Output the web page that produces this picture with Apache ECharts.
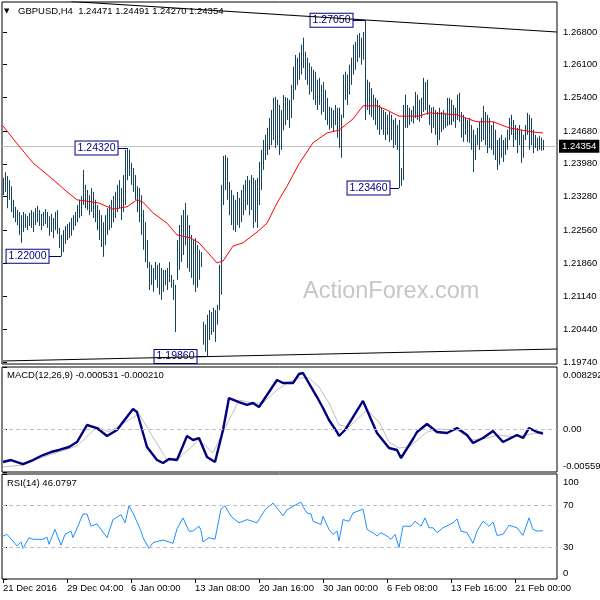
<!DOCTYPE html>
<html><head><meta charset="utf-8">
<script src="https://cdn.jsdelivr.net/npm/echarts@6/dist/echarts.min.js"></script>
<style>html,body{margin:0;padding:0;background:#fff;}#c{width:600px;height:600px;}</style>
</head><body><div id="c"></div>
<script>
// ---------- DATA ----------
const symbolName = 'GBPUSD,H4';
const lastOHLC = ['1.24471', '1.24491', '1.24270', '1.24354'];
const currentPrice = 1.24354;
const macdTitle = 'MACD(12,26,9) -0.000531 -0.000210';
const rsiTitle = 'RSI(14) 46.0797';
const watermark = 'ActionForex.com';

// H4 bars, index 0 = 21 Dec 2016 00:00
const barHigh = [
1.2368,1.2380,1.2372,1.2363,1.2350,1.2321,1.2306,1.2299,1.2295,1.2288,
1.2295,1.2291,1.2286,1.2293,1.2299,1.2295,1.2303,1.2308,1.2299,1.2291,
1.2295,1.2301,1.2295,1.2286,1.2291,1.2282,1.2295,1.2299,1.2261,1.2246,
1.2256,1.2265,1.2269,1.2273,1.2282,1.2288,1.2295,1.2310,1.2321,1.2329,
1.2385,1.2353,1.2342,1.2331,1.2346,1.2338,1.2321,1.2310,1.2299,1.2288,
1.2273,1.2288,1.2303,1.2310,1.2321,1.2329,1.2338,1.2353,1.2363,1.2346,
1.2374,1.2428,1.2432,1.2428,1.2400,1.2389,1.2374,1.2350,1.2346,1.2331,
1.2299,1.2273,1.2235,1.2188,1.2182,1.2175,1.2188,1.2182,1.2186,1.2175,
1.2171,1.2171,1.2175,1.2188,1.2160,1.2150,1.2139,1.2235,1.2267,1.2288,
1.2299,1.2314,1.2288,1.2267,1.2246,1.2235,1.2239,1.2224,1.2214,1.2209,
1.2060,1.2054,1.2075,1.2085,1.2081,1.2090,1.2085,1.2096,1.2182,1.2353,
1.2415,1.2417,1.2411,1.2359,1.2342,1.2331,1.2321,1.2338,1.2325,1.2342,
1.2353,1.2363,1.2372,1.2363,1.2374,1.2368,1.2363,1.2368,1.2402,1.2428,
1.2449,1.2460,1.2475,1.2496,1.2513,1.2539,1.2541,1.2535,1.2524,1.2513,
1.2545,1.2541,1.2539,1.2535,1.2567,1.2606,1.2631,1.2625,1.2636,1.2653,
1.2668,1.2638,1.2625,1.2614,1.2606,1.2599,1.2595,1.2578,1.2582,1.2567,
1.2573,1.2556,1.2539,1.2520,1.2518,1.2513,1.2524,1.2518,1.2518,1.2503,
1.2589,1.2595,1.2589,1.2610,1.2625,1.2653,1.2659,1.2674,1.2678,1.2668,
1.2680,1.2705,1.2578,1.2573,1.2560,1.2546,1.2539,1.2535,1.2524,1.2518,
1.2513,1.2509,1.2503,1.2509,1.2503,1.2492,1.2496,1.2481,1.2492,1.2389,
1.2524,1.2546,1.2524,1.2518,1.2513,1.2522,1.2552,1.2546,1.2535,1.2539,
1.2582,1.2573,1.2578,1.2524,1.2518,1.2520,1.2513,1.2509,1.2518,1.2509,
1.2513,1.2507,1.2539,1.2539,1.2535,1.2524,1.2518,1.2546,1.2550,1.2509,
1.2503,1.2496,1.2492,1.2496,1.2481,1.2471,1.2460,1.2475,1.2488,1.2496,
1.2522,1.2509,1.2503,1.2496,1.2481,1.2488,1.2471,1.2449,1.2454,1.2460,
1.2449,1.2454,1.2471,1.2496,1.2503,1.2492,1.2481,1.2475,1.2481,1.2471,
1.2460,1.2481,1.2507,1.2503,1.2496,1.2471,1.2460,1.2454,1.2458,1.2454,
1.24491];
const barLow = [
1.2331,1.2338,1.2303,1.2321,1.2295,1.2282,1.2273,1.2267,1.2246,1.2229,
1.2252,1.2261,1.2256,1.2265,1.2261,1.2252,1.2267,1.2273,1.2265,1.2256,
1.2265,1.2269,1.2261,1.2244,1.2252,1.2239,1.2256,1.2248,1.2218,1.2200,
1.2209,1.2227,1.2235,1.2239,1.2244,1.2256,1.2265,1.2273,1.2282,1.2286,
1.2310,1.2303,1.2299,1.2288,1.2295,1.2282,1.2273,1.2256,1.2235,1.2220,
1.2199,1.2224,1.2246,1.2256,1.2261,1.2273,1.2282,1.2295,1.2303,1.2278,
1.2295,1.2310,1.2363,1.2372,1.2353,1.2338,1.2321,1.2295,1.2273,1.2246,
1.2214,1.2188,1.2175,1.2128,1.2139,1.2124,1.2150,1.2133,1.2118,1.2107,
1.2124,1.2139,1.2128,1.2145,1.2133,1.2107,1.2038,1.2150,1.2171,1.2188,
1.2203,1.2224,1.2175,1.2167,1.2154,1.2139,1.2124,1.2133,1.2150,1.2177,
1.2011,1.1996,1.1986,1.2021,1.2032,1.2038,1.2017,1.2054,1.2085,1.2118,
1.2310,1.2342,1.2321,1.2288,1.2267,1.2256,1.2252,1.2267,1.2261,1.2273,
1.2288,1.2299,1.2310,1.2288,1.2299,1.2261,1.2273,1.2261,1.2310,1.2342,
1.2385,1.2406,1.2417,1.2428,1.2438,1.2449,1.2432,1.2438,1.2417,1.2428,
1.2470,1.2481,1.2492,1.2475,1.2496,1.2535,1.2556,1.2567,1.2578,1.2589,
1.2603,1.2578,1.2567,1.2546,1.2552,1.2535,1.2524,1.2513,1.2524,1.2503,
1.2509,1.2492,1.2481,1.2471,1.2475,1.2466,1.2481,1.2454,1.2432,1.2411,
1.2496,1.2535,1.2524,1.2546,1.2567,1.2589,1.2599,1.2616,1.2625,1.2610,
1.2621,1.2492,1.2513,1.2503,1.2498,1.2492,1.2481,1.2471,1.2460,1.2471,
1.2460,1.2449,1.2460,1.2445,1.2449,1.2432,1.2438,1.2428,1.2346,1.2351,
1.2363,1.2475,1.2475,1.2481,1.2488,1.2484,1.2496,1.2492,1.2488,1.2496,
1.2509,1.2513,1.2503,1.2481,1.2464,1.2475,1.2460,1.2438,1.2449,1.2466,
1.2471,1.2475,1.2479,1.2481,1.2481,1.2488,1.2475,1.2492,1.2488,1.2454,
1.2445,1.2460,1.2445,1.2443,1.2428,1.2380,1.2406,1.2438,1.2428,1.2445,
1.2449,1.2438,1.2421,1.2432,1.2428,1.2417,1.2406,1.2385,1.2396,1.2411,
1.2402,1.2417,1.2428,1.2449,1.2460,1.2434,1.2449,1.2421,1.2438,1.2400,
1.2411,1.2449,1.2460,1.2428,1.2438,1.2421,1.2432,1.2425,1.2428,1.2426,
1.24270];

// Moving average [bar index, price]
const maPoints = [[0,1.2479],[8,1.2436],[15,1.2400],[24,1.2368],[32,1.2338],[37,1.2321],[42,1.2318],[48,1.2314],[55,1.2301],[62,1.2306],[67,1.2321],[70,1.2316],[75,1.2293],[82,1.2271],[87,1.2246],[94,1.2239],[98,1.2229],[107,1.2186],[110,1.2190],[115,1.2222],[120,1.2229],[127,1.2252],[132,1.2271],[137,1.2314],[142,1.2350],[148,1.2398],[155,1.2443],[162,1.2464],[168,1.2470],[175,1.2494],[180,1.2522],[187,1.2522],[192,1.2513],[198,1.2500],[208,1.2500],[213,1.2507],[227,1.2503],[234,1.2492],[237,1.2488],[245,1.2488],[253,1.2475],[258,1.2471],[265,1.2466],[270,1.2464]];

// Trend lines [bar index, price]
const trendUpper = [[34,1.27453],[277,1.26800]];
const trendLower = [[0,1.19761],[277,1.20018]];

// Annotated extremes
const annIdx = [181, 62, 29, 102, 198];
const annPrice = [1.27050, 1.24320, 1.22000, 1.19860, 1.23460];

// MACD main and signal [bar index, value]
const macdPoints = [[0,-0.00427],[4,-0.00401],[10,-0.00454],[15,-0.00401],[20,-0.00335],[24,-0.00295],[28,-0.00268],[33,-0.00229],[37,-0.00163],[42,0.00062],[47,0.00022],[52,-0.00083],[57,-0.00004],[60,0.00102],[65,0.00274],[67,0.00234],[72,-0.00229],[77,-0.00401],[80,-0.00440],[83,-0.00387],[87,-0.00401],[92,-0.00083],[95,-0.00136],[98,-0.00110],[102,-0.00361],[106,-0.00427],[110,-0.00004],[113,0.00419],[118,0.00366],[122,0.00327],[125,0.00353],[128,0.00300],[137,0.00657],[140,0.00617],[145,0.00617],[148,0.00737],[150,0.00750],[157,0.00432],[160,0.00287],[163,0.00128],[167,-0.00030],[168,-0.00083],[171,-0.00004],[180,0.00380],[187,-0.00044],[193,-0.00242],[197,-0.00268],[199,-0.00374],[205,-0.00123],[207,-0.00030],[212,0.00075],[217,-0.00030],[222,-0.00044],[227,0.00022],[232,-0.00070],[235,-0.00176],[240,-0.00110],[245,-0.00017],[250,-0.00163],[257,-0.00070],[260,-0.00110],[263,0.00022],[267,-0.00030],[270,-0.000531]];
const signalPoints = [[0,-0.00493],[10,-0.00467],[20,-0.00361],[37,-0.00216],[47,0.00036],[53,-0.00030],[68,0.00208],[75,-0.00097],[82,-0.00401],[88,-0.00374],[98,-0.00136],[105,-0.00308],[113,0.00128],[118,0.00393],[125,0.00353],[130,0.00353],[137,0.00525],[143,0.00631],[148,0.00684],[153,0.00684],[158,0.00565],[163,0.00353],[168,0.00062],[173,0.00036],[182,0.00261],[188,0.00102],[193,-0.00163],[198,-0.00242],[203,-0.00229],[212,-0.00030],[218,0.00009],[227,-0.00004],[235,-0.00136],[242,-0.00110],[248,-0.00070],[255,-0.00097],[262,-0.00070],[270,-0.00021]];

// RSI [bar index, value]
const rsiPoints = [[0,40.9],[2,42.5],[7,31.5],[9,35.3],[10,29.1],[13,39.4],[15,37.8],[20,37.8],[22,39.9],[23,33.1],[26,47.2],[29,32.2],[31,42.5],[34,45.6],[35,39.4],[40,61.9],[42,61.9],[44,50.3],[47,52.5],[52,39.4],[55,56.6],[59,61.3],[61,53.5],[63,69.7],[65,62.9],[66,61.3],[69,45.6],[70,39.4],[73,29.1],[75,34.7],[80,37.1],[85,34.0],[87,47.8],[90,58.2],[93,45.6],[95,45.6],[98,50.3],[99,46.2],[100,35.3],[103,39.4],[106,37.8],[109,66.6],[111,69.7],[114,59.7],[118,53.5],[122,56.6],[127,53.5],[131,66.0],[135,72.3],[140,60.3],[142,66.0],[147,71.3],[149,73.2],[150,69.1],[152,62.9],[154,61.9],[155,55.0],[159,51.9],[160,59.7],[163,47.2],[165,42.5],[167,45.6],[168,36.2],[170,56.6],[173,55.0],[175,62.9],[180,66.6],[182,47.2],[185,44.1],[187,40.9],[189,44.1],[192,40.9],[194,37.8],[196,42.5],[198,30.0],[200,50.3],[204,50.3],[206,55.0],[209,50.3],[211,58.2],[213,48.8],[215,48.8],[217,44.1],[220,48.8],[225,53.5],[227,57.2],[229,45.6],[232,44.1],[235,34.0],[237,45.6],[240,55.0],[243,50.3],[245,54.4],[247,41.5],[250,42.5],[253,51.2],[257,48.8],[260,41.5],[263,58.2],[265,47.2],[267,45.6],[270,46.08]];

// Axis ticks
const priceTicks = [1.19740,1.20440,1.21140,1.21860,1.22560,1.23280,1.23980,1.24680,1.25400,1.26100,1.26800];
const macdTicks = [-0.005593, 0, 0.008292];
const rsiTicks = [0, 30, 70, 100];
const rsiLevels = [30, 70];
const timeTickIdx = [0, 32, 64, 96, 128, 160, 192, 224, 256];
const timeTickLabels = ['21 Dec 2016','29 Dec 04:00','6 Jan 00:00','13 Jan 08:00','20 Jan 16:00','30 Jan 00:00','6 Feb 08:00','13 Feb 16:00','21 Feb 00:00'];

// ---------- CHART ----------
const FONT = 'Liberation Sans';
const FS = 9.5;
const BAR_COLOR = '#17425e';
const NAVY = '#000080';
const annGapPx = [12, 9, 12, 10, 9];

const barData = barHigh.map((h, i) => [i, barLow[i], h]);

const chart = echarts.init(document.getElementById('c'), null, {renderer: 'canvas', width: 600, height: 600});

function gridDef(top, height) {
  return {left: 2, top: top, width: 555, height: height, show: true, borderColor: '#000', borderWidth: 1,
    backgroundColor: 'transparent', containLabel: false, outerBoundsMode: 'none'};
}

const xAxes = [0, 1, 2].map(g => ({
  type: 'value', gridIndex: g, min: -0.5, max: 277,
  show: g === 2,
  axisLine: {show: false},
  splitLine: {show: false},
  axisTick: {show: true, customValues: timeTickIdx, length: 4, lineStyle: {color: '#000'}},
  axisLabel: {
    customValues: timeTickIdx,
    formatter: v => timeTickLabels[timeTickIdx.indexOf(Math.round(v))] || '',
    align: 'left', margin: 4, fontSize: FS, color: '#000', fontFamily: FONT
  }
}));

const yLabelBase = {margin: 6, fontSize: FS, color: '#000', fontFamily: FONT};

const option = {
  animation: false,
  backgroundColor: '#fff',
  grid: [gridDef(2, 362), gridDef(367, 105), gridDef(474, 105)],
  xAxis: xAxes,
  yAxis: [
    {
      type: 'value', gridIndex: 0, position: 'right', min: 1.19697, max: 1.27442, scale: true,
      splitLine: {show: false}, axisLine: {show: false},
      axisTick: {show: true, customValues: priceTicks, length: 4, lineStyle: {color: '#000'}},
      axisLabel: Object.assign({customValues: priceTicks, formatter: v => v.toFixed(5)}, yLabelBase)
    },
    {
      type: 'value', gridIndex: 1, position: 'right', min: macdTicks[0], max: macdTicks[2],
      splitLine: {show: false}, axisLine: {show: false},
      axisTick: {show: true, customValues: macdTicks, length: 4, lineStyle: {color: '#000'}},
      axisLabel: Object.assign({
        customValues: macdTicks,
        formatter: v => Math.abs(v) < 1e-9 ? '{m|0.00}' : (v > 0 ? '{t|' + v.toFixed(6) + '}' : '{b|' + v.toFixed(6) + '}'),
        rich: {
          t: {padding: [17, 0, 0, 0], fontSize: FS, fontFamily: FONT, color: '#000'},
          b: {padding: [0, 0, 11, 0], fontSize: FS, fontFamily: FONT, color: '#000'},
          m: {fontSize: FS, fontFamily: FONT, color: '#000'}
        }
      }, yLabelBase)
    },
    {
      type: 'value', gridIndex: 2, position: 'right', min: 0, max: 100,
      splitLine: {show: false}, axisLine: {show: false},
      axisTick: {show: true, customValues: rsiTicks, length: 4, lineStyle: {color: '#000'}},
      axisLabel: Object.assign({
        customValues: rsiTicks,
        formatter: v => v === 100 ? '{t|100}' : (v === 0 ? '{b|0}' : '{m|' + v + '}'),
        rich: {
          t: {padding: [16, 0, 0, 0], fontSize: FS, fontFamily: FONT, color: '#000'},
          b: {padding: [0, 0, 12, 0], fontSize: FS, fontFamily: FONT, color: '#000'},
          m: {fontSize: FS, fontFamily: FONT, color: '#000'}
        }
      }, yLabelBase)
    }
  ],
  graphic: [
    {type: 'text', left: 4, top: 8, z: 10, style: {text: '▼', fontSize: 7, fill: '#000', fontFamily: 'DejaVu Sans'}},
    {type: 'text', left: 18, top: 6, z: 10, style: {text: symbolName + '  ' + lastOHLC.join(' '), fontSize: FS, fill: '#000', fontFamily: FONT}},
    {type: 'text', left: 7, top: 370, z: 10, style: {text: macdTitle, fontSize: FS, fill: '#000', fontFamily: FONT}},
    {type: 'text', left: 7, top: 478, z: 10, style: {text: rsiTitle, fontSize: FS, fill: '#000', fontFamily: FONT}},
    {type: 'text', left: 303, top: 280, z: 0, style: {text: watermark, fontSize: 23.5, fill: '#c6c6c6', fontFamily: FONT}}
  ],
  series: [
    {
      type: 'custom', name: 'bars', xAxisIndex: 0, yAxisIndex: 0, z: 3,
      data: barData, encode: {x: 0, y: [1, 2]}, silent: true,
      renderItem: function (params, api) {
        const lo = api.coord([api.value(0), api.value(1)]);
        const hi = api.coord([api.value(0), api.value(2)]);
        const x = Math.floor(lo[0]) + 0.5;
        return {type: 'line', shape: {x1: x, y1: lo[1], x2: x, y2: hi[1]}, style: {stroke: BAR_COLOR, lineWidth: 1}};
      },
      markPoint: {
        silent: true, symbol: 'rect', symbolSize: 1, itemStyle: {color: 'transparent'},
        data: annIdx.map((ix, k) => ({
          coord: [ix, annPrice[k]], value: annPrice[k].toFixed(5),
          label: {show: true, position: 'left', distance: annGapPx[k], formatter: annPrice[k].toFixed(5),
            backgroundColor: '#fff', borderColor: NAVY, borderWidth: 1, padding: [2, 2, 0, 2],
            color: NAVY, fontSize: 10.5, fontFamily: FONT, lineHeight: 11}
        }))
      },
      markLine: {
        silent: true, symbol: ['none', 'none'], animation: false, precision: 6,
        lineStyle: {color: NAVY, width: 1, type: 'solid'}, label: {show: false},
        data: annIdx.map((ix, k) => [{coord: [ix - annGapPx[k] / 2, annPrice[k]]}, {coord: [ix, annPrice[k]]}])
      }
    },
    {
      type: 'line', name: 'MA', xAxisIndex: 0, yAxisIndex: 0, z: 4, data: maPoints,
      showSymbol: false, silent: true, lineStyle: {color: '#ff0000', width: 1},
      markLine: {
        silent: true, symbol: ['none', 'none'], z: 1, precision: 6,
        lineStyle: {color: '#c0c0c0', width: 1, type: 'solid'},
        label: {show: true, position: 'end', distance: 2, formatter: currentPrice.toFixed(5),
          backgroundColor: '#000', color: '#fff', padding: [2, 3, 1, 3], fontSize: FS, fontFamily: FONT},
        data: [{yAxis: currentPrice}]
      }
    },
    {type: 'line', name: 'trendUpper', xAxisIndex: 0, yAxisIndex: 0, z: 5, data: trendUpper, showSymbol: false, silent: true, lineStyle: {color: '#000', width: 1.1}},
    {type: 'line', name: 'trendLower', xAxisIndex: 0, yAxisIndex: 0, z: 5, data: trendLower, showSymbol: false, silent: true, lineStyle: {color: '#000', width: 1.1}},
    {
      type: 'line', name: 'signal', xAxisIndex: 1, yAxisIndex: 1, z: 3, data: signalPoints,
      showSymbol: false, silent: true, lineStyle: {color: '#c0c0c0', width: 1},
      markLine: {
        silent: true, symbol: ['none', 'none'], label: {show: false}, precision: 6,
        lineStyle: {color: '#c0c0c0', width: 1, type: [4, 3]},
        data: [{yAxis: 0}]
      }
    },
    {type: 'line', name: 'macd', xAxisIndex: 1, yAxisIndex: 1, z: 4, data: macdPoints, showSymbol: false, silent: true, lineStyle: {color: NAVY, width: 2.4}},
    {
      type: 'line', name: 'rsi', xAxisIndex: 2, yAxisIndex: 2, z: 4, data: rsiPoints,
      showSymbol: false, silent: true, lineStyle: {color: '#1e90ff', width: 1},
      markLine: {
        silent: true, symbol: ['none', 'none'], label: {show: false},
        lineStyle: {color: '#c0c0c0', width: 1, type: [4, 3]},
        data: rsiLevels.map(v => ({yAxis: v}))
      }
    }
  ]
};
chart.setOption(option);
</script>
</body></html>
